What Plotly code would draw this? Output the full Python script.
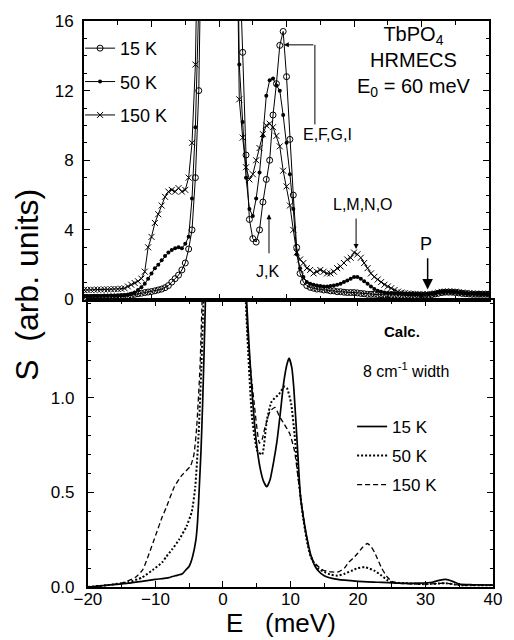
import plotly.graph_objects as go

# ---------------- data ----------------
# experimental energy grid (meV), 0.5 meV steps from -20 to 40
E_exp = [round(-20 + 0.5 * i, 1) for i in range(121)]

S15_exp = [
    0.12, 0.12, 0.12, 0.13, 0.13, 0.13, 0.14, 0.14, 0.15, 0.15,
    0.16, 0.17, 0.18, 0.20, 0.25, 0.30, 0.33, 0.36, 0.40, 0.43,
    0.46, 0.50, 0.55, 0.60, 0.68, 0.80, 1.00, 1.20, 1.40, 1.70,
    2.10, 2.90, 4.00, 7.00, 12.0, 24.0, 40.0, 60.0, 80.0, 90.0,
    95.0, 90.0, 80.0, 60.0, 40.0, 30.0, 20.0, 14.2, 8.3, 4.6,
    3.5, 3.3, 4.0, 5.6, 6.9, 8.0, 10.6, 12.4, 14.6, 15.4,
    12.8, 9.2, 6.0, 3.0, 1.5, 1.0, 0.80, 0.70, 0.65, 0.60,
    0.60, 0.55, 0.55, 0.50, 0.50, 0.45, 0.45, 0.42, 0.40, 0.40,
    0.40, 0.38, 0.35, 0.33, 0.30, 0.30, 0.30, 0.28, 0.28, 0.27,
    0.27, 0.26, 0.26, 0.25, 0.25, 0.25, 0.25, 0.25, 0.24, 0.24,
    0.24, 0.25, 0.25, 0.28, 0.32, 0.36, 0.40, 0.42, 0.42, 0.42,
    0.40, 0.38, 0.35, 0.33, 0.32, 0.30, 0.30, 0.30, 0.30, 0.30,
    0.30,
]

S50_exp = [
    0.20, 0.20, 0.20, 0.20, 0.20, 0.20, 0.21, 0.21, 0.21, 0.22,
    0.22, 0.23, 0.25, 0.28, 0.32, 0.40, 0.55, 0.70, 0.90, 1.20,
    1.50, 1.80, 2.00, 2.25, 2.50, 2.70, 2.85, 2.95, 3.00, 2.95,
    3.20, 3.60, 5.80, 9.90, 17.0, 30.0, 50.0, 70.0, 85.0, 92.0,
    95.0, 92.0, 85.0, 65.0, 45.0, 30.0, 13.5, 10.2, 7.0, 5.2,
    4.8, 5.8, 7.3, 9.4, 11.7, 12.6, 12.7, 12.3, 12.0, 10.6,
    9.0, 7.2, 5.2, 2.6, 1.8, 1.3, 1.0, 0.90, 0.85, 0.80,
    0.78, 0.75, 0.75, 0.78, 0.80, 0.85, 0.90, 1.00, 1.10, 1.20,
    1.30, 1.30, 1.20, 1.05, 0.90, 0.75, 0.60, 0.50, 0.45, 0.40,
    0.38, 0.37, 0.36, 0.35, 0.34, 0.33, 0.32, 0.32, 0.31, 0.31,
    0.30, 0.31, 0.32, 0.35, 0.38, 0.42, 0.45, 0.46, 0.46, 0.45,
    0.43, 0.40, 0.38, 0.36, 0.35, 0.34, 0.33, 0.33, 0.32, 0.32,
    0.32,
]

S150_exp = [
    0.55, 0.55, 0.56, 0.56, 0.57, 0.57, 0.58, 0.58, 0.59, 0.60,
    0.60, 0.62, 0.65, 0.75, 0.85, 0.95, 1.05, 1.20, 1.60, 3.00,
    3.60, 4.40, 4.90, 5.40, 5.90, 6.20, 6.30, 6.20, 6.40, 6.20,
    6.30, 7.00, 9.00, 13.5, 24.0, 40.0, 60.0, 75.0, 85.0, 90.0,
    92.0, 88.0, 80.0, 60.0, 40.0, 26.0, 11.5, 9.3, 7.6, 6.9,
    7.2, 8.0, 8.7, 9.5, 10.0, 10.1, 9.9, 9.4, 8.8, 7.4,
    6.5, 5.4, 4.0, 2.7, 2.3, 2.1, 1.8, 1.7, 1.5, 1.6,
    1.7, 1.6, 1.5, 1.5, 1.6, 1.8, 1.9, 2.1, 2.3, 2.4,
    2.7, 2.6, 2.4, 2.1, 1.8, 1.5, 1.3, 1.15, 1.0, 0.85,
    0.75, 0.65, 0.55, 0.45, 0.40, 0.37, 0.35, 0.33, 0.32, 0.31,
    0.30, 0.30, 0.30, 0.32, 0.35, 0.40, 0.44, 0.46, 0.46, 0.46,
    0.45, 0.43, 0.40, 0.38, 0.36, 0.35, 0.34, 0.33, 0.33, 0.33,
    0.33,
]

# calculated spectra (bottom panel)
E15_calc = [-20, -17, -14, -12, -10, -8, -7, -6, -5.5, -5,
            -4.5, -4, -3.75, -3.5, -3.25, -3, -2.75, -2.5, -2, 0,
            2, 3, 3.5, 4, 4.5, 5, 5.5, 6, 6.5, 7,
            7.5, 8, 8.5, 9, 9.5, 9.8, 10.2, 10.5, 11, 11.5,
            12, 12.5, 13, 13.5, 14, 15, 17, 20, 23, 26,
            29, 31, 32, 33, 34, 35, 37, 40]
S15_calc = [0.0, 0.01, 0.02, 0.03, 0.04, 0.05, 0.06, 0.07, 0.09, 0.11,
            0.16, 0.25, 0.35, 0.53, 0.72, 0.98, 1.3, 1.65, 2.5, 5.0,
            3.0, 2.2, 1.52, 1.2, 0.94, 0.75, 0.63, 0.56, 0.53, 0.57,
            0.66, 0.77, 0.92, 1.08, 1.18, 1.21, 1.16, 1.05, 0.76, 0.47,
            0.35, 0.25, 0.17, 0.12, 0.09, 0.06, 0.04, 0.03, 0.025, 0.02,
            0.02, 0.025, 0.035, 0.04, 0.03, 0.015, 0.012, 0.01]

E50_calc = [-20, -17, -15, -14, -12, -10.4, -9, -8.4, -7.5, -6.5,
            -5.4, -4.6, -4.1, -3.6, -3.2, -2.9, -2.5, 0, 2.5, 3,
            3.4, 3.6, 4.3, 5.1, 5.8, 6.5, 7.2, 8.3, 9.1, 9.5,
            10.1, 10.6, 11.2, 11.9, 12.5, 13, 14, 15, 16, 17,
            18, 19, 20, 21, 21.5, 22.5, 23.5, 24.4, 25, 27,
            30, 33, 35, 40]
S50_calc = [0.0, 0.01, 0.02, 0.025, 0.05, 0.09, 0.13, 0.16, 0.2, 0.25,
            0.32, 0.4, 0.53, 0.81, 1.16, 1.5, 2.0, 5.0, 2.4, 1.9,
            1.5, 1.34, 0.9, 0.72, 0.7, 0.88, 0.98, 1.02, 1.06, 1.05,
            0.97, 0.81, 0.57, 0.36, 0.23, 0.16, 0.1, 0.08, 0.065, 0.06,
            0.07, 0.085, 0.1, 0.105, 0.1, 0.085, 0.06, 0.035, 0.025, 0.02,
            0.015, 0.02, 0.01, 0.01]

E150_calc = [-20, -17, -15, -13, -11.9, -11, -9.9, -9, -8.4, -7.2,
             -6.1, -4.8, -4.3, -3.9, -3.4, -3.1, -2.5, 0, 2.5, 3,
             3.6, 4.1, 4.6, 5.4, 5.8, 6.2, 7.0, 7.7, 8.4, 9.1,
             9.9, 10.6, 11.3, 12.0, 12.8, 13.5, 14.8, 16, 17.1, 18,
             18.6, 19.5, 20, 20.7, 21.4, 22, 22.5, 23, 23.5, 24,
             24.4, 25, 26, 30, 33, 35, 40]
S150_calc = [0.0, 0.01, 0.02, 0.05, 0.09, 0.17, 0.28, 0.37, 0.42, 0.53,
             0.59, 0.64, 0.7, 0.84, 1.16, 1.5, 2.2, 5.0, 2.4, 1.9,
             1.38, 1.15, 0.98, 0.76, 0.78, 0.84, 0.93, 0.95, 0.9, 0.86,
             0.81, 0.72, 0.53, 0.35, 0.19, 0.13, 0.09, 0.08, 0.08, 0.1,
             0.13, 0.16, 0.18, 0.21, 0.23, 0.21, 0.18, 0.14, 0.1, 0.07,
             0.05, 0.03, 0.02, 0.015, 0.02, 0.01, 0.01]

temps = ["15 K", "50 K", "150 K"]

# ---------------- figure ----------------
FONT = "Liberation Sans, Arial, Helvetica, sans-serif"
BLACK = "black"

fig = go.Figure()

exp_series = [(S15_exp, dict(symbol="circle-open", size=6, color=BLACK, line=dict(width=1, color=BLACK))),
              (S50_exp, dict(symbol="circle", size=4, color=BLACK)),
              (S150_exp, dict(symbol="x-thin", size=6, color=BLACK, line=dict(width=1, color=BLACK)))]
for i, (s, mk) in enumerate(exp_series):
    fig.add_trace(go.Scatter(
        x=E_exp, y=s, mode="lines+markers", name=temps[i],
        line=dict(color=BLACK, width=1), marker=mk,
        xaxis="x2", yaxis="y2", legend="legend", legendgroup="e%d" % i,
        cliponaxis=True))

calc_series = [(E15_calc, S15_calc, dict(color=BLACK, width=1.7)),
               (E50_calc, S50_calc, dict(color=BLACK, width=2.0, dash="2px,2px")),
               (E150_calc, S150_calc, dict(color=BLACK, width=1.3, dash="5px,3px"))]
for i, (e, s, ln) in enumerate(calc_series):
    ln = dict(ln, shape="spline", smoothing=0.5)
    fig.add_trace(go.Scatter(
        x=e, y=s, mode="lines", name=temps[i], line=ln,
        xaxis="x", yaxis="y", legend="legend2", legendgroup="c%d" % i))

axis_common = dict(showline=True, linewidth=2, linecolor=BLACK, mirror="allticks",
                   ticks="inside", ticklen=6, tickwidth=1.2, tickcolor=BLACK,
                   showgrid=False, zeroline=False,
                   tickfont=dict(family=FONT, size=17, color=BLACK))

split = (587 - 298) / 569.0

fig.update_layout(
    width=514, height=640,
    margin=dict(l=84, r=12, t=18, b=53),
    paper_bgcolor="white", plot_bgcolor="white",
    font=dict(family=FONT, color=BLACK),
    xaxis=dict(axis_common, domain=[4 / 418, 1], range=[-20, 40], tick0=-20, dtick=10,
               minor=dict(dtick=5, ticklen=4, ticks="inside", tickcolor=BLACK),
               anchor="y", ticklabelstandoff=-4, tickfont=dict(family=FONT, size=17, color=BLACK)),
    yaxis=dict(axis_common, domain=[0, split], range=[0, 1.52],
               tickvals=[0, 0.5, 1.0], ticktext=["0.0", "0.5", "1.0"],
               minor=dict(dtick=0.1, ticklen=3, ticks="inside", tickcolor=BLACK),
               anchor="x", ticklabelstandoff=8),
    xaxis2=dict(axis_common, domain=[0, 414 / 418], range=[-20, 40], tick0=-20, dtick=10,
                minor=dict(dtick=5, ticklen=4, ticks="inside", tickcolor=BLACK),
                showticklabels=False, anchor="y2"),
    yaxis2=dict(axis_common, domain=[split, 1], range=[0, 16], tick0=0, dtick=4,
                minor=dict(dtick=1, ticklen=3, ticks="inside", tickcolor=BLACK),
                anchor="x2", ticklabelstandoff=5),
    legend=dict(x=-4 / 418.0, y=(587 - 27) / 569.0, xref="paper", yref="paper",
                xanchor="left", yanchor="top", bgcolor="rgba(0,0,0,0)",
                font=dict(family=FONT, size=18, color=BLACK),
                tracegroupgap=7, itemwidth=30, traceorder="grouped"),
    legend2=dict(x=(358 - 84) / 418.0, y=(587 - 408) / 569.0, xref="paper", yref="paper",
                 xanchor="left", yanchor="top", bgcolor="rgba(0,0,0,0)",
                 font=dict(family=FONT, size=17, color=BLACK),
                 tracegroupgap=4, itemwidth=30, traceorder="grouped"),
    showlegend=True,
)

def px_paper(px, py):
    return (px - 84) / 418.0, (587 - py) / 569.0

ann = []
def text_ann(px, py, txt, size, bold=False, angle=0, yanchor="middle"):
    xp, yp = px_paper(px, py)
    if bold:
        txt = "<b>" + txt + "</b>"
    ann.append(dict(x=xp, y=yp, xref="paper", yref="paper", text=txt, showarrow=False,
                    xanchor="center", yanchor=yanchor, textangle=angle, align="center",
                    font=dict(family=FONT, size=size, color=BLACK)))

text_ann(421, 59, "TbPO<sub>4</sub><br>HRMECS<br>E<sub>0</sub> = 60 meV", 20)
text_ann(333, 132, "E,F,G,I", 16)
text_ann(272, 270, "J,K", 16)
text_ann(369, 202, "L,M,N,O", 16)
text_ann(434, 242, "P", 18)
text_ann(409, 330, "Calc.", 15, bold=True)
text_ann(413, 369, "8 cm<sup>-1</sup> width", 16)
text_ann(25, 283, "S&nbsp;&nbsp;(arb.&nbsp;units)", 32, angle=-90)
text_ann(285, 640, "E&nbsp;&nbsp;&nbsp;(meV)", 26, yanchor="bottom")

def arrow(x_tip, y_tip, x_tail, y_tail, head=2, size=1.0, width=1.0):
    ann.append(dict(x=x_tip, y=y_tip, ax=x_tail, ay=y_tail, xref="x2", yref="y2",
                    axref="x2", ayref="y2", text="", showarrow=True, arrowhead=head,
                    arrowsize=size, arrowwidth=width, arrowcolor=BLACK, standoff=0))

# E,F,G,I bracket arrow
arrow(9.6, 14.63, 14.2, 14.63)
# J,K
arrow(7.4, 4.9, 7.4, 2.57)
# L,M,N,O
arrow(20.3, 2.9, 20.3, 4.74)
# P
arrow(30.9, 0.57, 30.9, 2.46, head=2, size=1.4, width=1.5)

fig.update_layout(annotations=ann)
fig.add_shape(type="line", xref="x2", yref="y2", x0=14.2, x1=14.2, y0=10.06, y1=14.63,
              line=dict(color=BLACK, width=1))

fig.write_html("out.html")
